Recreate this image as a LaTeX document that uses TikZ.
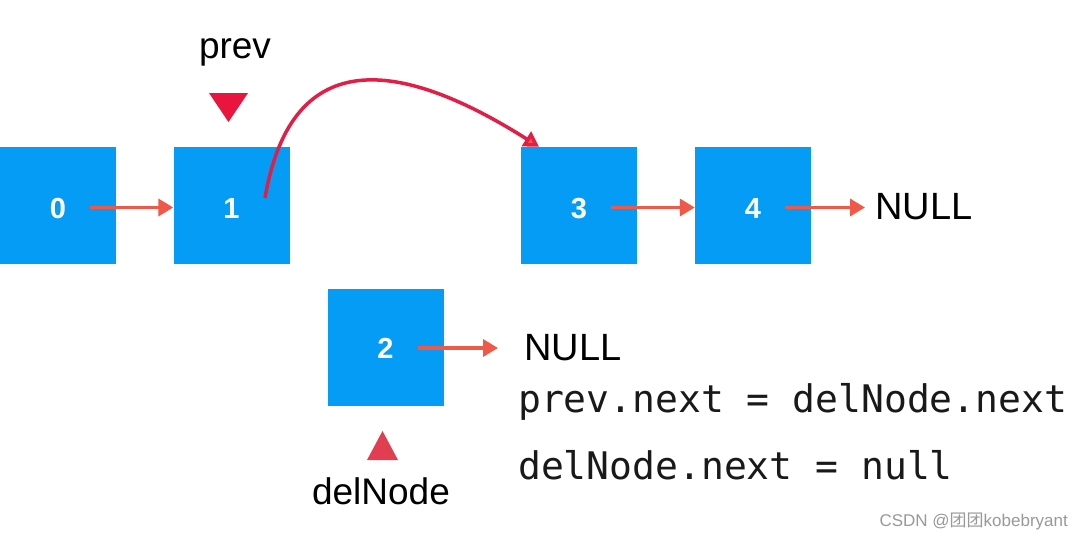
\documentclass[tikz,border=0pt]{standalone}
\usepackage{fontspec}
\setmainfont{Liberation Sans}
\newfontfamily\codefont{DejaVu Sans Mono}
\newfontfamily\cjkfont{Noto Sans CJK SC}
\usetikzlibrary{arrows.meta}
\definecolor{boxblue}{RGB}{5,156,246}
\definecolor{arrred}{RGB}{240,88,72}
\definecolor{curvered}{RGB}{226,30,70}
\definecolor{tridown}{RGB}{232,22,62}
\definecolor{triup}{RGB}{226,62,82}
\tikzset{
  listbox/.style={fill=boxblue,draw=none,minimum width=116pt,minimum height=117pt,inner sep=0pt,
    font=\fontsize{29}{30}\selectfont\bfseries,text=white,text height=26pt,text depth=0pt},
  link/.style={draw=arrred,line width=3.5pt,-{Triangle[length=15pt,width=17pt]}},
  curvelink/.style={draw=curvered,line width=3.5pt,-{Triangle[length=15pt,width=17pt,fill=arrred]}},
  lbl/.style={font=\fontsize{37}{38}\selectfont,text=black,inner sep=0pt},
  code/.style={font=\codefont\fontsize{38}{40}\selectfont,text=black!90,inner sep=0pt,anchor=west},
}
\begin{document}
\begin{tikzpicture}[x=1pt,y=-1pt]
\useasboundingbox[fill=white] (0,0) rectangle (1084,541);
\node[listbox] (n0) at (58,205.5) {0};
\node[listbox] (n1) at (231.5,205.5) {1};
\node[listbox] (n3) at (579,205.5) {3};
\node[listbox] (n4) at (753,205.5) {4};
\node[listbox,text height=23pt] (n2) at (385.5,347) {2};
\node[lbl,anchor=west,font=\fontsize{38}{40}\selectfont] (null1) at (875,207) {NULL};
\node[lbl,anchor=west,font=\fontsize{38}{40}\selectfont] (null2) at (524,348) {NULL};
\node[lbl] (prev) at (235,52) {prev};
\node[lbl] (del) at (381,491) {delNode};
\fill[tridown] (209,93) -- (248,93) -- (228.5,122) -- cycle;
\fill[triup] (367,460) -- (398,460) -- (382.5,431) -- cycle;
\node[code] (c1) at (518,402) {prev.next = delNode.next};
\node[code] (c2) at (518,465) {delNode.next = null};
\node[anchor=east,inner sep=0pt,text=black!40,font=\fontsize{17}{18}\selectfont] (wm) at (1068,521) {CSDN @{\cjkfont 团团}kobebryant};
\coordinate (s0) at ([xshift=32pt,yshift=-2pt]n0.center);
\coordinate (s3) at ([xshift=32pt,yshift=-2pt]n3.center);
\coordinate (s4) at ([xshift=32pt,yshift=-2pt]n4.center);
\coordinate (s2) at ([xshift=32pt,yshift=-1pt]n2.center);
\coordinate (s1) at (265,198);
\draw[link] (s0) -- (s0 -| n1.west);
\draw[link] (s3) -- (s3 -| n4.west);
\draw[link] (s4) -- ([xshift=-10pt]s4 -| null1.west);
\draw[link] (s2) -- ([xshift=-26pt]s2 -| null2.west);
\draw[curvelink] (s1) .. controls (292,40) and (405,62) .. ([xshift=-40pt]n3.north);
\end{tikzpicture}
\end{document}
